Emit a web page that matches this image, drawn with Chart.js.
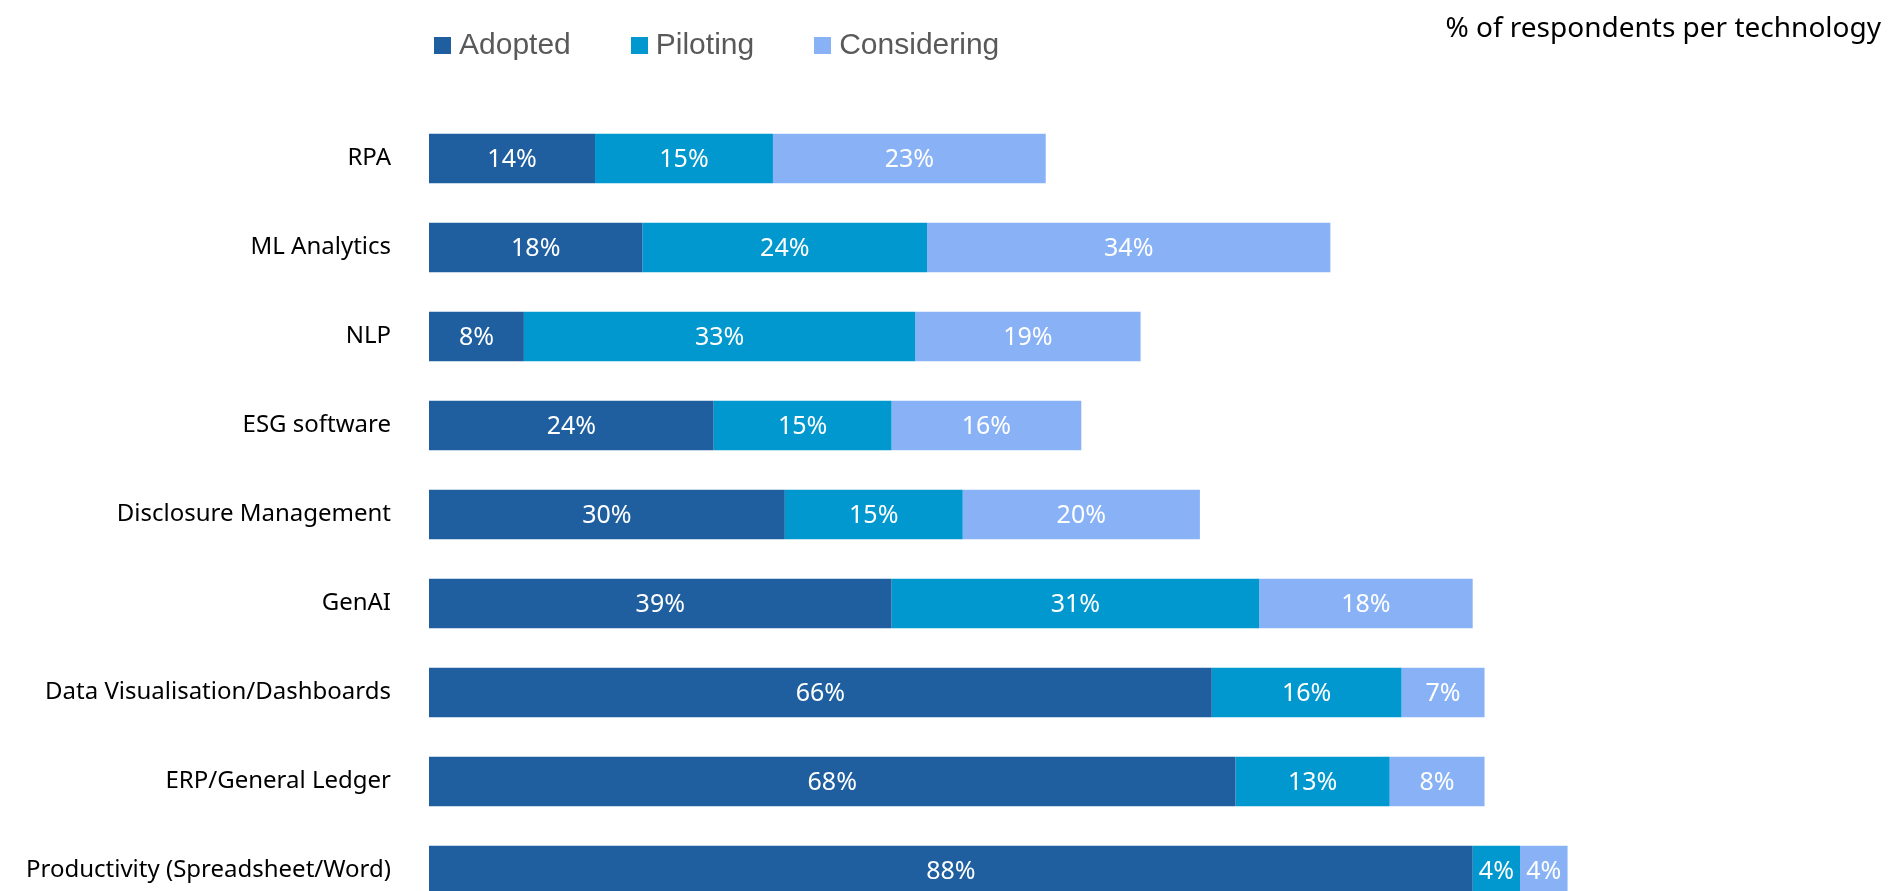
<!DOCTYPE html>
<html>
<head>
<meta charset="utf-8">
<title>Technology adoption</title>
<script src="https://cdn.jsdelivr.net/npm/chart.js@4.4.1/dist/chart.umd.min.js"></script>
<style>
  html, body { margin: 0; padding: 0; background: #fff; overflow: hidden; }
  #wrap { position: relative; width: 1889px; height: 915px; }
  #techChart { display: block; }
  #chart-title {
    position: absolute; right: 8px; top: 12px;
    font-family: "Noto Sans", sans-serif; font-size: 28px; line-height: 1;
    color: #000; white-space: nowrap;
  }
  #legend {
    position: absolute; left: 434px; top: 29px;
    font-family: "Liberation Sans", Arial, sans-serif; font-size: 30px; line-height: 1;
    color: #595959; white-space: nowrap;
  }
  #legend .item { display: inline-block; margin-right: 60px; }
  #legend .box { display: inline-block; width: 17px; height: 17px; margin-right: 8px; }
</style>
</head>
<body>
<div id="wrap">
  <canvas id="techChart" width="1889" height="915"></canvas>
  <div id="chart-title">% of respondents per technology</div>
  <div id="legend"></div>
</div>
<script>
// datos
const technologies = [
  'RPA',
  'ML Analytics',
  'NLP',
  'ESG software',
  'Disclosure Management',
  'GenAI',
  'Data Visualisation/Dashboards',
  'ERP/General Ledger',
  'Productivity (Spreadsheet/Word)'
];
const adopted     = [14, 18, 8, 24, 30, 39, 66, 68, 88];
const piloting    = [15, 24, 33, 15, 15, 31, 16, 13, 4];
const considering = [23, 34, 19, 16, 20, 18, 7, 8, 4];

const seriesNames  = ['Adopted', 'Piloting', 'Considering'];
const seriesColors = ['#1F5FA0', '#0098CF', '#88B2F5'];

// etiquetas blancas dentro de cada segmento
const segmentLabels = {
  id: 'segmentLabels',
  afterDatasetsDraw(chart) {
    const ctx = chart.ctx;
    ctx.save();
    ctx.fillStyle = '#fff';
    ctx.font = '25px "Noto Sans", sans-serif';
    ctx.textAlign = 'center';
    ctx.textBaseline = 'middle';
    chart.data.datasets.forEach((ds, i) => {
      const meta = chart.getDatasetMeta(i);
      meta.data.forEach((bar, j) => {
        const p = bar.getProps(['x', 'y', 'base'], true);
        ctx.fillText(ds.data[j] + '%', (p.x + p.base) / 2, p.y + 1);
      });
    });
    ctx.restore();
  }
};

const chart = new Chart(document.getElementById('techChart'), {
  type: 'bar',
  data: {
    labels: technologies,
    datasets: [
      { label: seriesNames[0], data: adopted,     backgroundColor: seriesColors[0] },
      { label: seriesNames[1], data: piloting,    backgroundColor: seriesColors[1] },
      { label: seriesNames[2], data: considering, backgroundColor: seriesColors[2] }
    ]
  },
  options: {
    indexAxis: 'y',
    responsive: false,
    animation: false,
    devicePixelRatio: 1,
    layout: { padding: { top: 114, right: 274, bottom: 0, left: 0 } },
    datasets: { bar: { barPercentage: 0.555, categoryPercentage: 1, borderWidth: 0 } },
    plugins: {
      legend: { display: false },
      tooltip: { enabled: false }
    },
    scales: {
      x: {
        stacked: true,
        min: 0,
        max: 100,
        display: false
      },
      y: {
        stacked: true,
        grid: { display: false, drawTicks: false },
        border: { display: false },
        ticks: {
          padding: 38,
          color: '#000',
          font: { family: '"Noto Sans", sans-serif', size: 24 }
        },
        afterFit(scale) {
          scale.width = 429;
          // el padding de los ticks no debe recortar el area abajo
          scale.paddingTop = 0;
          scale.paddingBottom = 0;
        }
      }
    }
  },
  plugins: [segmentLabels]
});

// leyenda en HTML a partir de los datasets
const legendEl = document.getElementById('legend');
chart.data.datasets.forEach(ds => {
  const item = document.createElement('span');
  item.className = 'item';
  item.innerHTML = `<span class="box" style="background:${ds.backgroundColor}"></span>${ds.label}`;
  legendEl.appendChild(item);
});
</script>
</body>
</html>
